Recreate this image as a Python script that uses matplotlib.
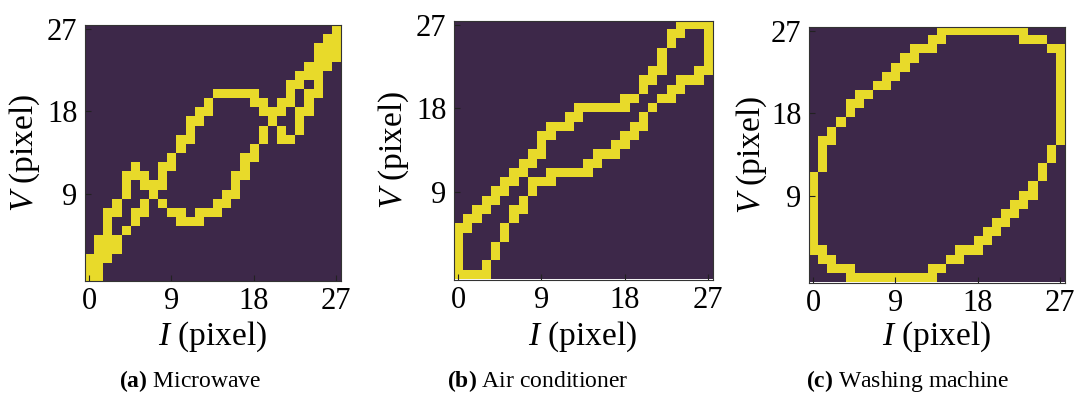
import numpy as np
import matplotlib
matplotlib.use("Agg")
import matplotlib.pyplot as plt
from matplotlib.colors import ListedColormap

# ---- data: yellow pixel columns for each image row (row 0 = top, V = 27) ----
microwave_rows = [
    [27],
    [26, 27],
    [25, 26, 27],
    [25, 26, 27],
    [24, 25, 26],
    [23, 24, 25],
    [22, 23, 25],
    [14, 15, 16, 17, 18, 22, 24, 25],
    [13, 18, 19, 21, 22, 24],
    [12, 13, 19, 20, 21, 23, 24],
    [11, 12, 20, 23],
    [11, 19, 21, 23],
    [10, 11, 19, 21, 22],
    [10, 18],
    [9, 17, 18],
    [5, 8, 9, 17],
    [4, 5, 6, 8, 16, 17],
    [4, 6, 7, 8, 16],
    [4, 7, 15, 16],
    [3, 6, 8, 14, 15],
    [2, 3, 5, 6, 9, 10, 12, 13, 14],
    [2, 5, 10, 11, 12],
    [2, 4],
    [1, 2, 3],
    [1, 2, 3],
    [0, 1, 2],
    [0, 1],
    [0, 1],
]

aircon_rows = [
    [24, 25, 26, 27],
    [23, 24, 27],
    [23, 27],
    [22, 27],
    [22, 27],
    [21, 22, 26, 27],
    [20, 21, 24, 25, 26],
    [20, 23, 24],
    [18, 19, 22, 23],
    [13, 14, 15, 16, 17, 18, 21],
    [12, 13, 20],
    [10, 11, 12, 19, 20],
    [9, 10, 18, 19],
    [9, 17, 18],
    [8, 9, 15, 16, 17],
    [7, 8, 14, 15],
    [6, 7, 10, 11, 12, 13, 14],
    [5, 6, 8, 9, 10],
    [4, 5, 8],
    [3, 4, 7],
    [2, 3, 6, 7],
    [1, 2, 6],
    [0, 1, 5],
    [0, 5],
    [0, 4],
    [0, 4],
    [0, 3],
    [0, 1, 2, 3],
]

washer_rows = [
    [14, 15, 16, 17, 18, 19, 20, 21, 22, 23],
    [13, 14, 23, 24, 25],
    [11, 12, 13, 26, 27],
    [10, 11, 27],
    [9, 10, 27],
    [8, 9, 27],
    [7, 8, 27],
    [5, 6, 27],
    [4, 5, 27],
    [4, 27],
    [3, 27],
    [2, 27],
    [1, 2, 27],
    [1, 26],
    [1, 26],
    [1, 25],
    [0, 25],
    [0, 24],
    [0, 23, 24],
    [0, 22, 23],
    [0, 21, 22],
    [0, 20, 21],
    [0, 19, 20],
    [0, 18, 19],
    [0, 1, 16, 17, 18],
    [1, 2, 15, 16],
    [2, 3, 4, 13, 14],
    [4, 5, 6, 7, 8, 9, 10, 11, 12, 13],
]

captions = ["(a)", "(b)", "(c)"]
caption_names = ["Microwave", "Air conditioner", "Washing machine"]
tick_values = [0, 9, 18, 27]
y_tick_values = [9, 18, 27]


def to_grid(rows, n=28):
    g = np.zeros((n, n))
    for r, cols in enumerate(rows):
        g[r, cols] = 1
    return g


plt.rcParams['font.family'] = ['Liberation Serif', 'DejaVu Serif']
plt.rcParams['mathtext.fontset'] = 'custom'
plt.rcParams['mathtext.rm'] = 'Liberation Serif'
plt.rcParams['mathtext.it'] = 'Liberation Serif:italic'
plt.rcParams['mathtext.bf'] = 'Liberation Serif:bold'

W, H = 1078, 397
fig = plt.figure(figsize=(W / 100, H / 100), dpi=100)
fig.patch.set_facecolor('white')

cmap = ListedColormap(['#3d2849', '#e8da2a'])

# axes boxes in pixels: left, top, size
boxes = [(84.5, 24.5, 256), (453.5, 20.5, 259), (808.5, 26.5, 256)]
ylabel_x = [25, 394, 752]
caption_x = [190, 538, 908]

for i, rows in enumerate([microwave_rows, aircon_rows, washer_rows]):
    L, T, S = boxes[i]
    ax = fig.add_axes([L / W, 1 - (T + S) / H, S / W, S / H])
    ax.imshow(to_grid(rows), cmap=cmap, vmin=0, vmax=1, origin='upper',
              extent=(-0.5, 27.5, -0.5, 27.5), interpolation='nearest', aspect='auto')
    ax.set_xticks(tick_values)
    ax.set_yticks(y_tick_values)
    ax.tick_params(direction='in', length=4, width=0.8, labelsize=22, pad=5,
                   colors='#222222', labelcolor='black')
    for sp in ax.spines.values():
        sp.set_linewidth(0.8)
        sp.set_color('#333333')
    cx = L + S / 2
    fig.text(cx / W, 1 - 337 / H, r'$I$ (pixel)', ha='center', va='center', fontsize=24)
    fig.text(ylabel_x[i] / W, 1 - (T + S / 2) / H, r'$V$ (pixel)', ha='center', va='center',
             rotation=90, fontsize=24)
    fig.text(caption_x[i] / W, 1 - 381 / H, r'$\mathbf{%s}$ %s' % (captions[i], caption_names[i]),
             ha='center', va='center', fontsize=17)

fig.savefig('out.png', dpi=100, facecolor='white')
